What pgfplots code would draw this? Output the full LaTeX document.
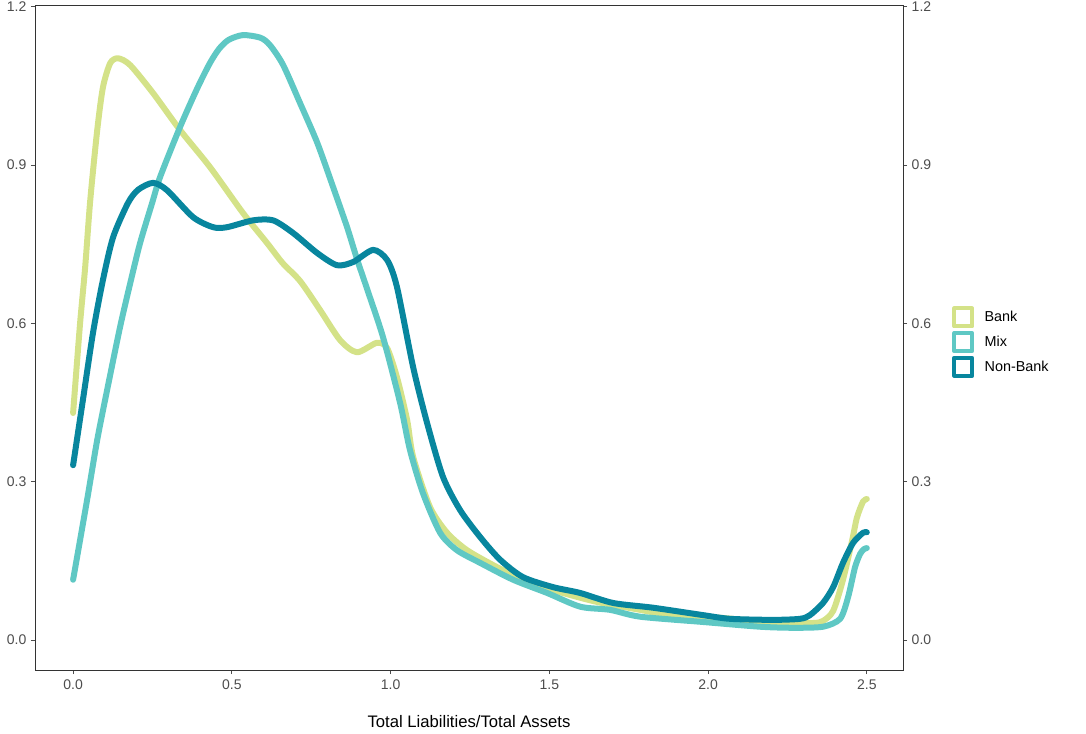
\documentclass[border=0pt]{standalone}
\usepackage{fontspec}
\setmainfont{Liberation Sans}
\usepackage{pgfplots}
\pgfplotsset{compat=1.18}
\definecolor{bankc}{RGB}{212,226,136}
\definecolor{mixc}{RGB}{95,200,196}
\definecolor{nonbankc}{RGB}{8,134,158}
\definecolor{tickgray}{RGB}{77,77,77}

\pgfplotstableread{
x y
0.000 0.430
0.022 0.600
0.038 0.706
0.054 0.833
0.076 0.966
0.094 1.047
0.117 1.093
0.142 1.102
0.180 1.089
0.252 1.036
0.337 0.966
0.431 0.896
0.535 0.809
0.611 0.752
0.660 0.714
0.715 0.680
0.778 0.625
0.841 0.568
0.894 0.545
0.957 0.563
0.989 0.553
1.020 0.498
1.052 0.417
1.071 0.347
1.124 0.252
1.178 0.203
1.241 0.170
1.335 0.138
1.439 0.108
1.543 0.089
1.650 0.072
1.786 0.057
1.880 0.047
2.038 0.042
2.217 0.032
2.330 0.032
2.362 0.036
2.394 0.055
2.425 0.114
2.454 0.189
2.469 0.232
2.488 0.262
2.500 0.267
}\bank

\pgfplotstableread{
x y
0.000 0.114
0.044 0.265
0.076 0.379
0.107 0.473
0.148 0.593
0.180 0.676
0.211 0.752
0.249 0.828
0.274 0.877
0.337 0.972
0.391 1.045
0.431 1.093
0.460 1.120
0.490 1.137
0.535 1.146
0.590 1.141
0.620 1.127
0.661 1.090
0.715 1.017
0.769 0.942
0.819 0.858
0.863 0.782
0.894 0.722
0.926 0.665
0.976 0.574
1.030 0.449
1.061 0.360
1.102 0.278
1.156 0.203
1.209 0.170
1.282 0.146
1.386 0.114
1.493 0.089
1.597 0.063
1.691 0.057
1.786 0.044
1.984 0.034
2.164 0.025
2.268 0.023
2.362 0.025
2.416 0.040
2.441 0.081
2.463 0.138
2.479 0.163
2.491 0.172
2.500 0.174
}\mix

\pgfplotstableread{
x y
0.000 0.331
0.031 0.455
0.063 0.583
0.094 0.682
0.126 0.763
0.173 0.828
0.205 0.853
0.252 0.866
0.296 0.852
0.378 0.801
0.441 0.782
0.485 0.782
0.567 0.795
0.630 0.795
0.693 0.771
0.769 0.733
0.831 0.710
0.882 0.716
0.945 0.739
0.989 0.720
1.020 0.669
1.071 0.517
1.115 0.411
1.165 0.309
1.219 0.246
1.282 0.195
1.345 0.152
1.417 0.119
1.512 0.100
1.597 0.089
1.701 0.070
1.827 0.061
1.984 0.047
2.069 0.040
2.205 0.038
2.290 0.040
2.321 0.047
2.362 0.070
2.394 0.100
2.425 0.146
2.457 0.184
2.488 0.203
2.500 0.204
}\nonbank

\begin{document}
\begin{tikzpicture}
\useasboundingbox (-26.25pt,-47.25pt) rectangle (788.25pt,502.5pt);
\pgfplotsset{
  base/.style={
    scale only axis, width=651pt, height=498.75pt,
    at={(0pt,0pt)}, anchor=south west,
    xmin=-0.12, xmax=2.614, ymin=-0.057, ymax=1.203,
    axis line style={black!80, line width=0.6pt},
    tick align=outside, major tick length=3pt,
    tick style={tickgray, line width=0.6pt},
    ytick={0,0.3,0.6,0.9,1.2},
    tick label style={font=\fontsize{10.5}{12}\selectfont, text=tickgray},
    yticklabel style={/pgf/number format/fixed, /pgf/number format/fixed zerofill, /pgf/number format/precision=1},
    xticklabel style={/pgf/number format/fixed, /pgf/number format/fixed zerofill, /pgf/number format/precision=1},
    /pgf/number format/assume math mode=true,
  }
}
\begin{axis}[base,
  xtick={0,0.5,1,1.5,2,2.5},
  xtick pos=bottom, ytick pos=left,
  xticklabel style={yshift=-1pt},
  xlabel={Total Liabilities/Total Assets},
  xlabel style={font=\fontsize{12.5}{14}\selectfont, yshift=-12pt},
  legend style={at={(1.053,0.493)}, anchor=west, draw=none, fill=none, inner sep=0pt,
    font=\fontsize{10.8}{12}\selectfont, row sep=2pt},
  legend cell align=left,
  legend image code/.code={\draw[line width=3pt, #1] (1.5pt,-6.75pt) rectangle (15pt,6.75pt);
    \path (0pt,0pt) (20pt,0pt);},
]
\addplot[bankc, line width=4.5pt, line cap=round, line join=round, smooth, tension=0.45] table {\bank};
\addlegendentry{Bank}
\addplot[mixc, line width=4.5pt, line cap=round, line join=round, smooth, tension=0.45] table {\mix};
\addlegendentry{Mix}
\addplot[nonbankc, line width=4.5pt, line cap=round, line join=round, smooth, tension=0.45] table {\nonbank};
\addlegendentry{Non-Bank}
\end{axis}
\begin{axis}[base,
  axis x line=none, axis y line*=right,
  ytick pos=right, yticklabel pos=right,
]
\addplot[draw=none] coordinates {(0,0)};
\end{axis}
\end{tikzpicture}
\end{document}
